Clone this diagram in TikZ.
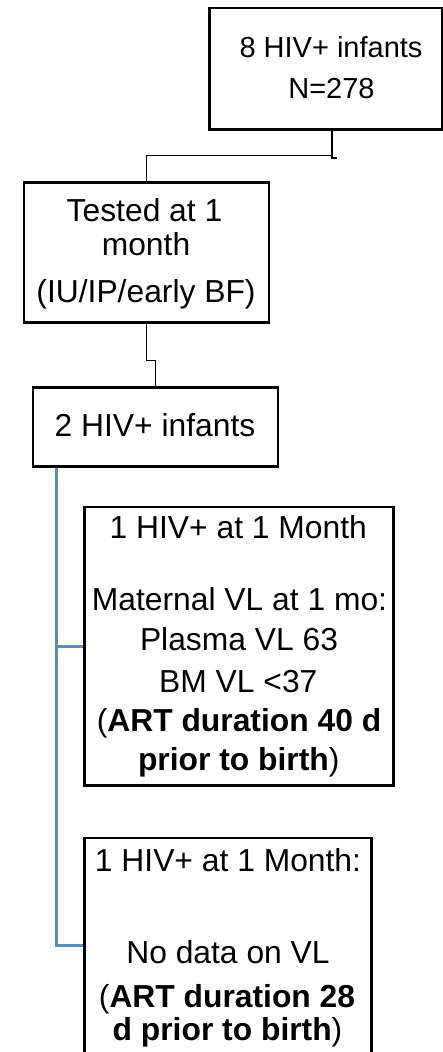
\documentclass[tikz,border=0pt]{standalone}
\usepackage{fontspec}
\setmainfont{Liberation Sans}
\definecolor{linkblue}{RGB}{88,140,200}
\begin{document}
\begin{tikzpicture}[x=1pt,y=-1pt,
  box/.style={draw=black,line width=2.6pt,inner sep=0pt,fill=none},
  txt/.style={inner sep=0pt,anchor=base,font=\fontsize{31.8}{36}\selectfont},
  txtsmall/.style={inner sep=0pt,anchor=base,font=\fontsize{29}{33}\selectfont},
  conn/.style={draw=black,line width=1.3pt},
  blueconn/.style={draw=linkblue,line width=2.7pt,line join=miter}]
\useasboundingbox (0,0) rectangle (443,1052);
% boxes
\node[box,minimum width=232.7pt,minimum height=121.5pt] (b1) at (325.6,68.75) {};
\node[box,minimum width=245.2pt,minimum height=140pt] (b2) at (146.4,252.3) {};
\node[box,minimum width=245.2pt,minimum height=79.1pt] (b3) at (155.4,426.75) {};
\node[box,minimum width=308.6pt,minimum height=278.7pt] (b4) at (239,646.35) {};
\node[box,minimum width=286.6pt,minimum height=262pt] (b5) at (228,969) {};
% texts
\node[txtsmall] (t1a) at (331,57.7) {8 HIV+ infants};
\node[txtsmall] (t1b) at (331.5,98) {N=278};
\node[txt] (t2a) at (144.5,221.7) {Tested at 1};
\node[txt] (t2b) at (146,255) {month};
\node[txt] (t2c) at (146,302.7) {(IU/IP/early BF)};
\node[txt] (t3) at (155,436.3) {2 HIV+ infants};
\node[txt] (t4a) at (238.3,538.3) {1 HIV+ at 1 Month};
\node[txt] (t4b) at (239.5,610.7) {Maternal VL at 1 mo:};
\node[txt] (t4c) at (239,650.7) {Plasma VL 63};
\node[txt] (t4d) at (238.3,692.3) {BM VL <37};
\node[txt] (t4e) at (239,731.7) {(\textbf{ART duration 40 d}};
\node[txt] (t4f) at (238.7,770.5) {\textbf{prior to birth})};
\node[txt] (t5a) at (228,871.7) {1 HIV+ at 1 Month:};
\node[txt] (t5b) at (228,963.3) {No data on VL};
\node[txt] (t5c) at (227,1007.5) {(\textbf{ART duration 28}};
\node[txt] (t5d) at (227.5,1040.5) {\textbf{d prior to birth})};
% black connectors
\coordinate (k1) at ([xshift=6.4pt]b1.south);
\coordinate (j1) at (0,155.5);
\draw[conn] (k1) -- (k1 |- j1) -| (b2.north);
\draw[conn] (k1 |- j1) -- ++(0,2.5) -- ++(5,0);
\draw[conn] (b2.south) -- ++(0,37.1) -| (b3.north);
% blue connectors
\coordinate (s3) at ([xshift=24.7pt]b3.south west);
\coordinate (e5) at ([yshift=-109pt]b5.north west);
\draw[blueconn] (s3) -- (s3 |- e5) -- (e5);
\draw[blueconn] (s3 |- b4.west) -- (b4.west);
\end{tikzpicture}
\end{document}
